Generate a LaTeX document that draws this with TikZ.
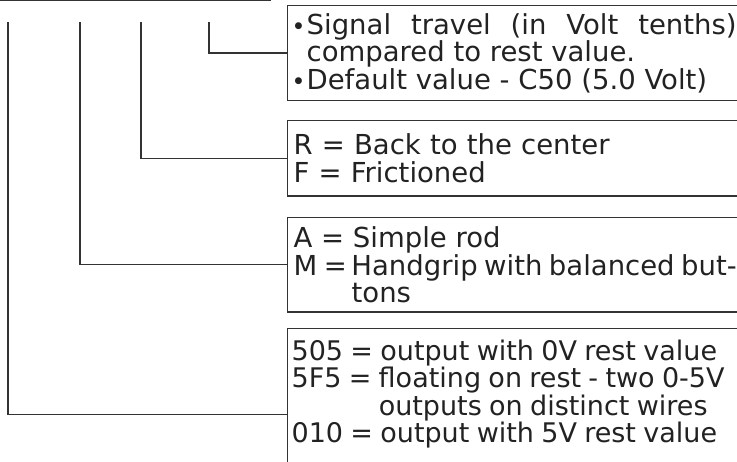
\documentclass[tikz,border=0pt]{standalone}
\usepackage{fontspec}
\setmainfont{DejaVu Sans}
\usetikzlibrary{positioning}

\definecolor{linegray}{HTML}{333333}
\definecolor{textgray}{HTML}{222222}
\newcommand{\smallbullet}{\makebox[13pt][l]{\hspace{1pt}\raisebox{6pt}{\fontsize{9}{9}\selectfont\char"25CF}}}

\begin{document}
\begin{tikzpicture}[x=1pt,y=-1pt,
  every node/.style={font=\fontsize{27.5}{27.5}\selectfont, text=textgray},
  descbox/.style={draw=linegray, line width=1.3pt, anchor=north west,
    text width=443pt, inner xsep=6pt, inner ysep=8pt},
  cell/.style={draw=linegray, line width=1.3pt, anchor=south west,
    minimum height=40pt, inner sep=0pt},
  lead/.style={draw=linegray, line width=1.3pt}]
\clip (0,0) rectangle (737,462);

% code cells, cut off at the top
\node[cell, minimum width=63pt]  (cellA) at (-5,1.5)  {};
\node[cell, minimum width=105pt] (cellB) at (58,1.5)  {};
\node[cell, minimum width=107pt] (cellC) at (163,1.5) {};

% where the leads start
\coordinate (lead1) at (8,22);
\coordinate (lead2) at (80,22);
\coordinate (lead3) at (141,22);
\coordinate (lead4) at (209,22);

% description boxes
\node[descbox, align=justify, inner ysep=7.7pt] (travel) at (287,5)
  {\noindent\hangindent=13pt \smallbullet Signal travel (in Volt tenths)\linebreak
   compared to rest value.\par
   \noindent\hangindent=13pt \smallbullet Default value - C50 (5.0 Volt)\par};
\node[descbox, align=left, inner ysep=13.25pt] (rest) at (287,120)
  {R = Back to the center\\F = Frictioned};
\node[descbox, align=justify, inner ysep=9pt] (rod) at (287,217)
  {\noindent A = Simple rod\par
   \noindent\hangindent=58pt M =\,Handgrip with balanced but-\linebreak tons\par};
\node[descbox, align=left, inner xsep=4pt, inner ysep=11pt, text width=470pt,
      font=\fontsize{27}{27.5}\selectfont] (output) at (287,328)
  {\spaceskip=7.3pt plus 1pt\relax
   505 = output with 0V rest value\\
   5F5 = floating on rest - two 0-5V\\
   \hphantom{5F5 = }outputs on distinct wires\\
   010 = output with 5V rest value\rule[-46pt]{0pt}{1pt}};

% leads to the boxes
\draw[lead] (lead4) |- (travel.west);
\draw[lead] (lead3) |- (rest.west);
\draw[lead] (lead2) |- (rod.west);
\draw[lead] (lead1) |- (output.west);
\end{tikzpicture}
\end{document}
